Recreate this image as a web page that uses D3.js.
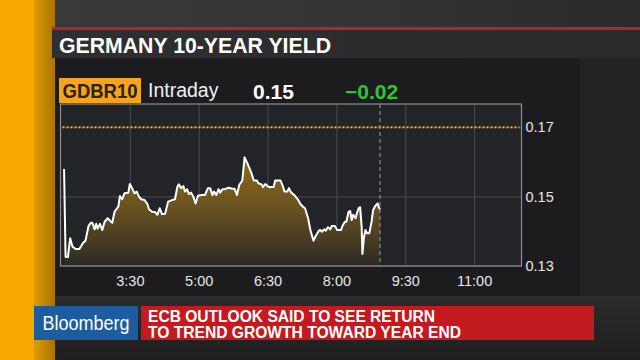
<!DOCTYPE html>
<html><head><meta charset="utf-8">
<script src="https://cdn.jsdelivr.net/npm/d3@7"></script>
<style>html,body{margin:0;padding:0;background:#2a2a2a;}svg{display:block;font-family:"Liberation Sans",Arial,sans-serif;}</style>
</head><body><svg id="c" width="640" height="360"></svg>
<script>
// ---- data ----
const title = "GERMANY 10-YEAR YIELD";
const ticker = "GDBR10";
const period = "Intraday";
const lastValue = "0.15";
const netChange = "\u22120.02";
const prevClose = 0.17;
const nowTime = "8:57";
const xTickLabels = ["3:30","5:00","6:30","8:00","9:30","11:00"];
const yTickValues = [0.13, 0.15, 0.17];
const xDomain = ["2:00","12:00"];
const yDomain = [0.13, 0.1767];
const times = [
 "2:04","2:06","2:09","2:12","2:15","2:19","2:24","2:29","2:32","2:36",
 "2:39","2:41","2:44","2:46","2:48","2:51","2:54","2:57","3:01","3:04",
 "3:07","3:10","3:15","3:17","3:20","3:23","3:28","3:30","3:34","3:36",
 "3:39","3:42","3:45","3:49","3:53","3:55","3:59","4:03","4:06","4:09",
 "4:12","4:16","4:20","4:26","4:29","4:32","4:34","4:37","4:40","4:42",
 "4:45","4:47","4:50","4:53","4:56","4:59","5:04","5:08","5:12","5:15",
 "5:18","5:20","5:23","5:26","5:28","5:31","5:34","5:39","5:44","5:47",
 "5:50","5:53","5:57","6:00","6:04","6:09","6:12","6:16","6:18","6:22",
 "6:24","6:27","6:30","6:32","6:38","6:40","6:47","6:50","6:52","6:56",
 "6:58","7:01","7:05","7:10","7:13","7:17","7:19","7:23","7:26","7:30",
 "7:33","7:37","7:39","7:41","7:44","7:46","7:49","7:52","7:54","7:58",
 "8:01","8:06","8:08","8:11","8:13","8:16","8:18","8:20","8:22","8:25",
 "8:27","8:29","8:31","8:33","8:34","8:36","8:38","8:40","8:43","8:46",
 "8:48","8:51","8:54","8:55","8:57"];
const yields = [
 0.1579,0.1326,0.1325,0.1379,0.1355,0.1348,0.1348,0.1366,0.1372,0.1415,
 0.1424,0.1424,0.1405,0.1421,0.1407,0.1421,0.1403,0.1427,0.1437,0.1430,
 0.1424,0.1456,0.1471,0.1501,0.1492,0.1509,0.1511,0.1536,0.1519,0.1509,
 0.1514,0.1499,0.1492,0.1490,0.1478,0.1463,0.1456,0.1455,0.1447,0.1466,
 0.1449,0.1449,0.1485,0.1490,0.1492,0.1527,0.1535,0.1524,0.1530,0.1514,
 0.1521,0.1507,0.1511,0.1499,0.1480,0.1502,0.1504,0.1504,0.1524,0.1524,
 0.1504,0.1514,0.1504,0.1521,0.1511,0.1521,0.1521,0.1525,0.1522,0.1522,
 0.1504,0.1533,0.1546,0.1613,0.1594,0.1567,0.1546,0.1546,0.1538,0.1535,
 0.1527,0.1536,0.1530,0.1527,0.1527,0.1546,0.1546,0.1530,0.1514,0.1514,
 0.1524,0.1511,0.1504,0.1490,0.1478,0.1469,0.1466,0.1437,0.1403,0.1372,
 0.1386,0.1401,0.1403,0.1398,0.1405,0.1401,0.1411,0.1405,0.1415,0.1415,
 0.1403,0.1403,0.1415,0.1427,0.1427,0.1456,0.1458,0.1432,0.1447,0.1437,
 0.1453,0.1466,0.1469,0.1413,0.1334,0.1382,0.1403,0.1394,0.1394,0.1427,
 0.1461,0.1473,0.1480,0.1471,0.1463];
const headline = ["ECB OUTLOOK SAID TO SEE RETURN","TO TREND GROWTH TOWARD YEAR END"];
const brand = "Bloomberg";

// ---- helpers ----
const parseT = s => { const [h,m] = s.split(":").map(Number); return new Date(2017,0,1,h,m); };
const data = times.map((t,i)=>({t:parseT(t), v:yields[i]}));

const svg = d3.select("#c");
const defs = svg.append("defs");

// ---- background ----
const g1 = defs.append("linearGradient").attr("id","topbg").attr("x1",0).attr("x2",1).attr("y1",0).attr("y2",0);
g1.append("stop").attr("offset",0).attr("stop-color","#3a3a3a");
g1.append("stop").attr("offset",0.6).attr("stop-color","#333333");
g1.append("stop").attr("offset",1).attr("stop-color","#2a2a2a");
svg.append("rect").attr("width",640).attr("height",360).attr("fill","#282828");
svg.append("rect").attr("x",0).attr("y",0).attr("width",640).attr("height",28).attr("fill","url(#topbg)");
svg.append("rect").attr("x",580).attr("y",58).attr("width",60).attr("height",302).attr("fill","#232323");
const gb = defs.append("linearGradient").attr("id","botbg").attr("x1",0).attr("x2",0).attr("y1",0).attr("y2",1);
gb.append("stop").attr("offset",0).attr("stop-color","#2b2b2b");
gb.append("stop").attr("offset",1).attr("stop-color","#1f1f1f");
svg.append("rect").attr("x",55).attr("y",296).attr("width",585).attr("height",64).attr("fill","url(#botbg)");

// orange strip
const go = defs.append("linearGradient").attr("id","orange2").attr("x1",0).attr("x2",1).attr("y1",0).attr("y2",0);
go.append("stop").attr("offset",0).attr("stop-color","#e09b00");
go.append("stop").attr("offset",1).attr("stop-color","#a87300");
svg.append("rect").attr("x",0).attr("y",0).attr("width",34).attr("height",360).attr("fill","#f6a800");
svg.append("rect").attr("x",34).attr("y",0).attr("width",21).attr("height",360).attr("fill","url(#orange2)");

// red rule + title bar
svg.append("rect").attr("x",52).attr("y",27).attr("width",588).attr("height",3).attr("fill","#b3252b");
const gt = defs.append("linearGradient").attr("id","titlebg").attr("x1",0).attr("x2",1).attr("y1",0).attr("y2",0);
gt.append("stop").attr("offset",0).attr("stop-color","#2f2f31");
gt.append("stop").attr("offset",1).attr("stop-color","#2a2a2b");
svg.append("rect").attr("x",52).attr("y",30).attr("width",588).attr("height",28).attr("fill","url(#titlebg)");
svg.append("text").attr("x",59).attr("y",52.5).attr("fill","#ffffff").attr("font-weight","bold")
  .attr("font-size",21.5).attr("textLength",272).attr("lengthAdjust","spacingAndGlyphs").text(title);

// panel
svg.append("rect").attr("x",55).attr("y",58).attr("width",525).attr("height",238).attr("fill","#1c1c1e");

// header row
svg.append("rect").attr("x",59).attr("y",78).attr("width",82).attr("height",25).attr("fill","#f5a41c");
svg.append("text").attr("x",100).attr("y",98).attr("text-anchor","middle").attr("fill","#2b2208")
  .attr("font-weight","bold").attr("font-size",20.5).attr("textLength",75).attr("lengthAdjust","spacingAndGlyphs").text(ticker);
svg.append("text").attr("x",148).attr("y",97).attr("fill","#f2f2f2").attr("font-size",19.5).text(period);
svg.append("text").attr("x",253).attr("y",99).attr("fill","#ffffff").attr("font-weight","bold").attr("font-size",21).text(lastValue);
svg.append("text").attr("x",345).attr("y",99).attr("fill","#2fc437").attr("font-weight","bold").attr("font-size",21).text(netChange);

// ---- chart ----
const L = 61, R = 520;
const x = d3.scaleTime().domain(xDomain.map(parseT)).range([L, R]);
const y = d3.scaleLinear().domain(yDomain).range([265.7, 104]);
const plotTop = 104, plotBot = 266, plotL = 60.5, plotR = 521.5;

svg.append("rect").attr("x",plotL).attr("y",plotTop).attr("width",plotR-plotL).attr("height",plotBot-plotTop)
  .attr("fill","#222428");

// grid
const xTicks = xTickLabels.map(parseT);
const xg = svg.append("g").attr("transform",`translate(0,${plotBot})`)
  .call(d3.axisBottom(x).tickValues(xTicks).tickSize(-(plotBot-plotTop)).tickFormat(""));
xg.select(".domain").remove();
xg.selectAll("line").attr("stroke","#4a4c50").attr("stroke-width",1);
const yg = svg.append("g").attr("transform",`translate(${plotL},0)`)
  .call(d3.axisRight(y).tickValues(yTickValues).tickSize(plotR-plotL).tickFormat(""));
yg.select(".domain").remove();
yg.selectAll("line").attr("stroke","#4a4c50").attr("stroke-width",1);

// area
const ga = defs.append("linearGradient").attr("id","areafill").attr("gradientUnits","userSpaceOnUse")
  .attr("x1",0).attr("x2",0).attr("y1",y(0.161)).attr("y2",plotBot);
ga.append("stop").attr("offset",0).attr("stop-color","#8d6a18").attr("stop-opacity",1);
ga.append("stop").attr("offset",0.45).attr("stop-color","#6a5220").attr("stop-opacity",1);
ga.append("stop").attr("offset",1).attr("stop-color","#2c2a26").attr("stop-opacity",1);
svg.append("path").datum(data)
  .attr("d", d3.area().x(d=>x(d.t)).y0(y(yDomain[0])).y1(d=>y(d.v)))
  .attr("fill","url(#areafill)");

// previous close dotted
svg.append("line").attr("x1",plotL+2).attr("x2",plotR-2).attr("y1",y(prevClose)).attr("y2",y(prevClose))
  .attr("stroke","#f0a92a").attr("stroke-width",2).attr("stroke-dasharray","2,2");

// now dashed line
svg.append("line").attr("x1",x(parseT(nowTime))).attr("x2",x(parseT(nowTime)))
  .attr("y1",plotTop).attr("y2",plotBot).attr("stroke","#8c8c8c").attr("stroke-width",1.2).attr("stroke-dasharray","4,3");

// price line
svg.append("path").datum(data)
  .attr("d", d3.line().x(d=>x(d.t)).y(d=>y(d.v)))
  .attr("fill","none").attr("stroke","#ffffff").attr("stroke-width",2).attr("stroke-linejoin","round");

// border
svg.append("rect").attr("x",plotL).attr("y",plotTop).attr("width",plotR-plotL).attr("height",plotBot-plotTop)
  .attr("fill","none").attr("stroke","#8e8e8e").attr("stroke-width",1.2);

// axis labels
const xa = svg.append("g").attr("transform",`translate(0,${plotBot})`)
  .call(d3.axisBottom(x).tickValues(xTicks).tickSize(0).tickPadding(10).tickFormat(d3.timeFormat("%-H:%M")));
xa.select(".domain").remove();
xa.selectAll("text").attr("fill","#e6e6e6").attr("font-size",14.5).attr("font-family","Liberation Sans, Arial, sans-serif");
const ya = svg.append("g").attr("transform",`translate(${plotR},0)`)
  .call(d3.axisRight(y).tickValues(yTickValues).tickSize(0).tickPadding(4).tickFormat(d3.format(".2f")));
ya.select(".domain").remove();
ya.selectAll("text").attr("fill","#e6e6e6").attr("font-size",14.5).attr("font-family","Liberation Sans, Arial, sans-serif");

// ---- bottom banner ----
svg.append("rect").attr("x",34).attr("y",306).attr("width",104).attr("height",34).attr("fill","#1d5c9e");
svg.append("text").attr("x",86).attr("y",330).attr("text-anchor","middle").attr("fill","#ffffff")
  .attr("font-size",20).attr("textLength",87).attr("lengthAdjust","spacingAndGlyphs").text(brand);
svg.append("rect").attr("x",141).attr("y",306).attr("width",453).attr("height",34).attr("fill","#c3191f");
svg.append("text").attr("x",148).attr("y",322).attr("fill","#ffffff").attr("font-weight","bold").attr("font-size",16)
  .attr("textLength",287).attr("lengthAdjust","spacingAndGlyphs").text(headline[0]);
svg.append("text").attr("x",148).attr("y",337.5).attr("fill","#ffffff").attr("font-weight","bold").attr("font-size",16)
  .attr("textLength",313).attr("lengthAdjust","spacingAndGlyphs").text(headline[1]);
</script></body></html>
